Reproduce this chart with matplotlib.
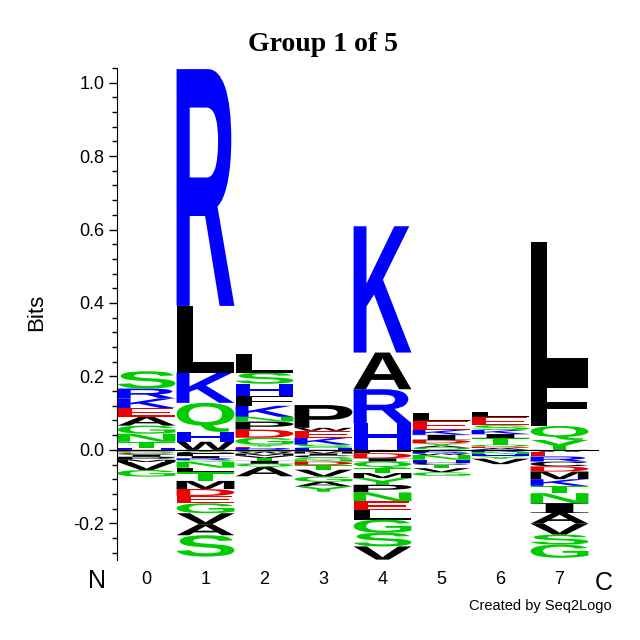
import matplotlib
matplotlib.use("Agg")
import matplotlib.pyplot as plt
from matplotlib.textpath import TextPath
from matplotlib.patches import PathPatch
from matplotlib.font_manager import FontProperties
from matplotlib.transforms import Affine2D

plt.rcParams['font.family'] = ['Liberation Sans', 'DejaVu Sans']

# Data: letters bottom->top above zero, and zero->down below zero
positions = [0, 1, 2, 3, 4, 5, 6, 7]

pos_letters = [
    ["H", "T", "N", "G", "A", "E", "K", "R", "S"],
    ["W", "H", "Q", "K", "L", "R"],
    ["R", "E", "Y", "G", "D", "P", "N", "K", "F", "H", "S", "L"],
    ["H", "S", "K", "E", "W", "P"],
    ["H", "R", "A", "K"],
    ["Q", "A", "Y", "D", "I", "K", "E", "L"],
    ["A", "D", "Q", "T", "I", "K", "S", "E", "L"],
    ["Y", "Q", "F", "L"],
]
pos_heights = [
    [0.006, 0.016, 0.022, 0.022, 0.024, 0.024, 0.026, 0.027, 0.047],
    [0.022, 0.027, 0.079, 0.082, 0.182, 0.645],
    [0.005, 0.004, 0.005, 0.019, 0.022, 0.022, 0.013, 0.030, 0.027, 0.033, 0.030, 0.050],
    [0.005, 0.009, 0.019, 0.019, 0.008, 0.062],
    [0.073, 0.092, 0.100, 0.344],
    [0.006, 0.005, 0.007, 0.009, 0.014, 0.013, 0.025, 0.021],
    [0.005, 0.004, 0.005, 0.018, 0.011, 0.011, 0.013, 0.022, 0.015],
    [0.027, 0.038, 0.125, 0.375],
]

neg_letters = [
    ["D", "Q", "C", "I", "P", "M", "V", "G"],
    ["Y", "C", "F", "I", "R", "Q", "N", "L", "T", "M", "D", "E", "G", "V", "A", "S"],
    ["C", "W", "M", "V", "T", "I", "Q", "A"],
    ["R", "M", "I", "C", "Q", "N", "D", "T", "V", "G", "A", "Y"],
    ["W", "F", "D", "I", "Q", "T", "M", "Y", "P", "N", "E", "L", "G", "S", "V"],
    ["F", "R", "W", "N", "H", "C", "T", "V", "G"],
    ["R", "N", "H", "Y", "V"],
    ["W", "E", "R", "C", "D", "M", "K", "T", "N", "I", "A", "V", "S", "G"],
]
neg_heights = [
    [0.005, 0.004, 0.004, 0.006, 0.008, 0.006, 0.022, 0.018],
    [0.005, 0.004, 0.008, 0.006, 0.005, 0.0046, 0.016, 0.012, 0.024, 0.022, 0.019, 0.020, 0.027, 0.030, 0.030, 0.058],
    [0.005, 0.005, 0.006, 0.006, 0.008, 0.008, 0.009, 0.025],
    [0.004, 0.006, 0.005, 0.006, 0.005, 0.006, 0.009, 0.013, 0.019, 0.014, 0.013, 0.014],
    [0.004, 0.005, 0.014, 0.009, 0.018, 0.013, 0.014, 0.018, 0.021, 0.024, 0.025, 0.025, 0.036, 0.037, 0.036],
    [0.005, 0.005, 0.004, 0.013, 0.008, 0.006, 0.009, 0.011, 0.010],
    [0.006, 0.006, 0.006, 0.006, 0.015],
    [0.005, 0.013, 0.014, 0.013, 0.014, 0.021, 0.018, 0.020, 0.027, 0.027, 0.029, 0.030, 0.027, 0.036],
]

colors = {}
for aa in "ACFILMPVW":
    colors[aa] = "black"
for aa in "HKR":
    colors[aa] = "#0000ff"
for aa in "DE":
    colors[aa] = "#ee0000"
for aa in "GNQSTY":
    colors[aa] = "#00cc00"

font = FontProperties(family="Liberation Sans", weight="bold")
font_i = FontProperties(family="Liberation Serif", weight="bold")  # logo's I has serifs


def draw_letter(ax, letter, x, y0, h, width=0.98):
    tp = TextPath((0, 0), letter, size=1, prop=font_i if letter == "I" else font)
    ext = tp.get_extents()
    tr = (Affine2D()
          .translate(-ext.x0, -ext.y0)
          .scale(width / ext.width, h / ext.height)
          .translate(x - width / 2, y0))
    patch = PathPatch(tr.transform_path(tp), facecolor=colors[letter],
                      edgecolor="none", lw=0)
    ax.add_patch(patch)


fig = plt.figure(figsize=(6.4, 6.4), dpi=100)
ax = fig.add_axes([117 / 640, 80 / 640, 472 / 640, 492 / 640])

for i, x in enumerate(positions):
    y = 0.0
    for let, h in zip(pos_letters[i], pos_heights[i]):
        draw_letter(ax, let, x, y, h)
        y += h
    y = 0.0
    for let, h in zip(neg_letters[i], neg_heights[i]):
        draw_letter(ax, let, x, y - h, h)
        y -= h

ax.plot([-0.5, 7.65], [0, 0], color="black", lw=0.8, clip_on=False)

ax.set_xlim(-0.5, 7.5)
ax.set_ylim(-0.3, 1.038)
for s in ["top", "right", "bottom"]:
    ax.spines[s].set_visible(False)

ax.set_yticks([-0.2, 0.0, 0.2, 0.4, 0.6, 0.8, 1.0])
ax.set_yticklabels(["-0.2", "0.0", "0.2", "0.4", "0.6", "0.8", "1.0"])
ax.set_yticks([i * 0.04 - 0.28 for i in range(34)], minor=True)
ax.tick_params(axis="y", which="major", length=6, width=1, pad=3, labelsize=13)
ax.tick_params(axis="y", which="minor", length=3.5, width=1)
ax.set_xticks(positions)
ax.set_xticklabels([str(p) for p in positions])
ax.tick_params(axis="x", length=0, pad=8, labelsize=13)

fig.text(0.505, 1 - 51 / 640, "Group 1 of 5", ha="center", va="baseline",
         fontsize=20, fontweight="bold", family="Liberation Serif")
fig.text(37 / 640, 1 - 312 / 640, "Bits", rotation=90, ha="center", va="center",
         fontsize=16)
fig.text(97 / 640, 1 - 581 / 640, "N", ha="center", va="center", fontsize=18)
fig.text(604 / 640, 1 - 583 / 640, "C", ha="center", va="center", fontsize=18)
fig.text(612 / 640, 1 - 606 / 640, "Created by Seq2Logo", ha="right", va="center",
         fontsize=10.5)

fig.savefig("out.png", dpi=100)
